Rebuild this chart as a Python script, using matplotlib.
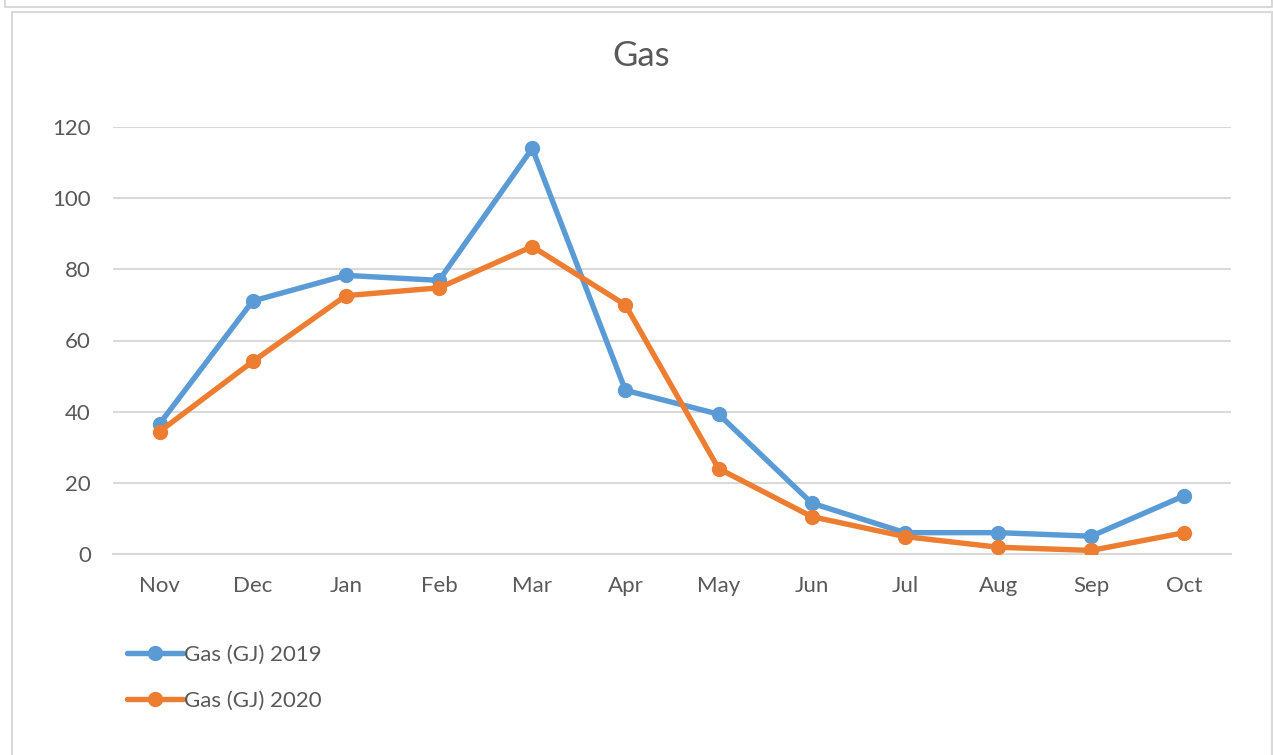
import matplotlib.pyplot as plt
from matplotlib.lines import Line2D

months = ["Nov", "Dec", "Jan", "Feb", "Mar", "Apr", "May", "Jun", "Jul", "Aug", "Sep", "Oct"]
gas_2019 = [36.6, 71.1, 78.3, 76.9, 114.0, 46.0, 39.3, 14.3, 6.0, 6.0, 5.0, 16.4]
gas_2020 = [34.4, 54.1, 72.6, 74.8, 86.4, 70.0, 24.0, 10.5, 4.9, 1.9, 1.0, 6.0]
y_ticks = [0, 20, 40, 60, 80, 100, 120]

W, H = 1273, 755
text_col = "#595959"
grid_col = "#D9D9D9"
plt.rcParams['font.family'] = ['Lato', 'DejaVu Sans']

fig = plt.figure(figsize=(W / 100, H / 100), dpi=100)
ax = fig.add_axes([113 / W, 1 - 554 / H, (1231 - 113) / W, (554 - 127) / H])

x = list(range(len(months)))
ax.plot(x, gas_2019, color="#5B9BD5", lw=3.9, marker="o", ms=10,
        solid_capstyle="round", label="Gas (GJ) 2019", zorder=3)
ax.plot(x, gas_2020, color="#ED7D31", lw=3.9, marker="o", ms=10,
        solid_capstyle="round", label="Gas (GJ) 2020", zorder=4)

ax.set_xlim(-0.5, len(months) - 0.5)
ax.set_ylim(0, 120)
ax.set_yticks(y_ticks)
ax.set_xticks(x)
ax.set_xticklabels(months)
ax.grid(axis="y", color=grid_col, lw=1.5)
ax.set_axisbelow(True)
for s in ["top", "right", "left"]:
    ax.spines[s].set_visible(False)
ax.spines["bottom"].set_color(grid_col)
ax.spines["bottom"].set_linewidth(1.5)
ax.tick_params(axis="both", length=0, labelsize=16, labelcolor=text_col)
ax.tick_params(axis="x", pad=16)
ax.tick_params(axis="y", pad=16)

fig.text(641 / W, 1 - 56 / H, "Gas", ha="center", va="center", fontsize=25, color=text_col)

leg = fig.legend(loc="upper left", bbox_to_anchor=(127 / W, 1 - 645 / H), frameon=False,
                 fontsize=16, labelcolor=text_col, handlelength=2.5, handletextpad=0.05,
                 labelspacing=1.15, borderaxespad=0, borderpad=0)

# frame lines around the chart (as in the spreadsheet screenshot)
def fline(xs, ys):
    fig.add_artist(Line2D([v / W for v in xs], [1 - v / H for v in ys], color=grid_col, lw=1.5))

fline([5, 5, 1272, 1272], [0, 7, 7, 0])
fline([12, 12], [12, H])
fline([12, 1271.5], [12, 12])
fline([1271.5, 1271.5], [12, H])

fig.savefig("out.png", dpi=100, facecolor="white")
